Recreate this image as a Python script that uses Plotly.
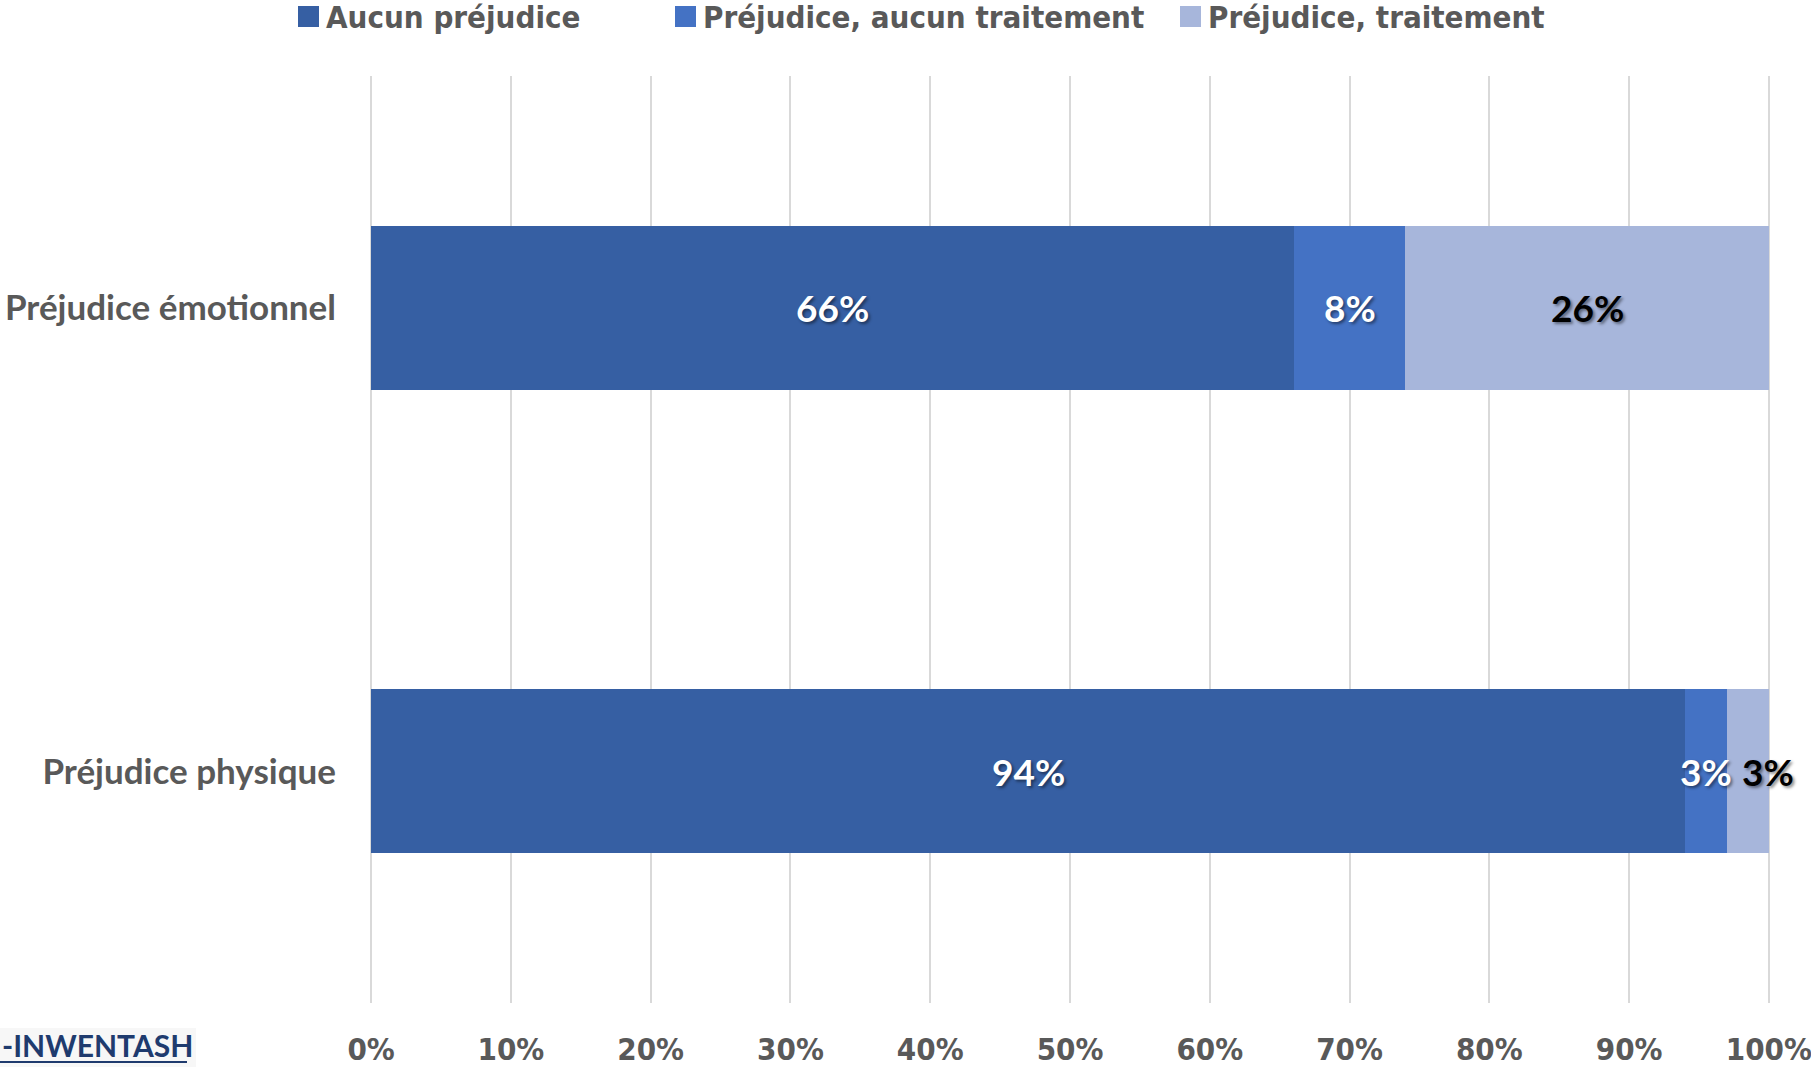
import plotly.graph_objects as go

categories = ["Préjudice émotionnel", "Préjudice physique"]
series_names = ["Aucun préjudice", "Préjudice, aucun traitement", "Préjudice, traitement"]
aucun = [66, 94]
sans_trait = [8, 3]
avec_trait = [26, 3]
tick_vals = [0, 10, 20, 30, 40, 50, 60, 70, 80, 90, 100]
tick_text = ["0%", "10%", "20%", "30%", "40%", "50%", "60%", "70%", "80%", "90%", "100%"]

colors = ["#365FA3", "#4472C4", "#A7B6DB"]
label_colors = ["white", "white", "black"]
series = [aucun, sans_trait, avec_trait]

W, H = 1811, 1067
ml, mr, mt, mb = 370, 41, 76, 64

fig = go.Figure()
for name, vals, col in zip(series_names, series, colors):
    fig.add_trace(go.Bar(
        y=categories, x=vals, name=name, orientation="h",
        marker=dict(color=col, line=dict(width=0)),
        width=0.353, hoverinfo="skip", showlegend=False,
    ))

px = lambda p: (p - ml) / (W - ml - mr)
py = lambda p: (H - mb - p) / (H - mt - mb)

label_font = "Lato, 'Open Sans', sans-serif"
cond_font = "'DejaVu Sans Condensed', 'DejaVu Sans', sans-serif"
annotations = []
shapes = []
for ci, cat in enumerate(categories):
    cum = 0
    for si, vals in enumerate(series):
        v = vals[ci]
        xshift = 0
        if si == 2 and v < 5:
            xshift = 20
        annotations.append(dict(
            x=cum + v / 2, y=cat, xref="x", yref="y", text=f"{v}%",
            showarrow=False, xshift=xshift,
            font=dict(family=label_font, size=37, color=label_colors[si], weight="bold",
                      shadow="2px 2px 3px rgba(0,0,0,0.45)"),
        ))
        cum += v

# legend drawn manually (large square markers)
legend_x = [298, 675, 1180]
for name, col, lx in zip(series_names, colors, legend_x):
    shapes.append(dict(type="rect", xref="paper", yref="paper",
                       x0=px(lx), x1=px(lx + 21), y0=py(6), y1=py(27),
                       fillcolor=col, line=dict(width=0)))
    annotations.append(dict(
        x=px(lx + 26), y=py(17), xref="paper", yref="paper", xanchor="left", yanchor="middle",
        text=name, showarrow=False,
        font=dict(family=cond_font, size=31, color="#595959", weight="bold"),
    ))

# logo fragment bottom-left
annotations.append(dict(
    x=px(0), y=py(1045), xref="paper", yref="paper", xanchor="left", yanchor="middle",
    text="-INWENTASH", showarrow=False,
    font=dict(family=label_font, size=30, color="#1F3B6E", weight="bold"),
))
shapes += [
    dict(type="rect", xref="paper", yref="paper", x0=px(0), x1=px(196), y0=py(1028), y1=py(1067),
         fillcolor="#F7F7F7", line=dict(width=0), layer="below"),
    dict(type="line", xref="paper", yref="paper", x0=px(0), x1=px(187), y0=py(1062), y1=py(1062),
         line=dict(color="#1F3B6E", width=2)),
]

fig.update_layout(
    width=W, height=H,
    margin=dict(l=ml, r=mr, t=mt, b=mb, autoexpand=False),
    barmode="stack",
    plot_bgcolor="white", paper_bgcolor="white",
    font=dict(family=cond_font, color="#595959"),
    xaxis=dict(range=[-0.08, 100.08], tickvals=tick_vals, ticktext=tick_text, showgrid=True,
               gridcolor="#D9D9D9", gridwidth=1.5, zeroline=False, showline=False,
               tickfont=dict(size=31, weight="bold", family=cond_font),
               ticklabelstandoff=25, ticklabeloverflow="allow",
               fixedrange=True, automargin=False),
    yaxis=dict(categoryorder="array", categoryarray=categories, autorange="reversed",
               showgrid=False, zeroline=False, showline=False,
               tickfont=dict(size=35, weight="bold", family=label_font),
               ticklabelstandoff=33, fixedrange=True, automargin=False),
    annotations=annotations,
    shapes=shapes,
    showlegend=False,
)

fig.write_html(
    "out.html",
    config={"displayModeBar": False},
    post_script="document.body.style.margin='0';document.body.style.overflow='hidden';",
)
